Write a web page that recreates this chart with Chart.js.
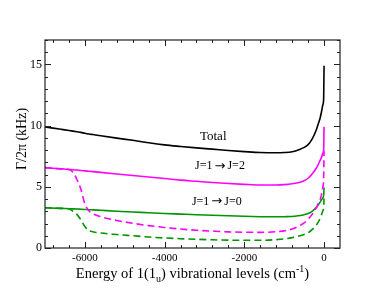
<!DOCTYPE html>
<html>
<head>
<meta charset="utf-8">
<script src="https://cdn.jsdelivr.net/npm/chart.js@4/dist/chart.umd.min.js"></script>
<style>
  html, body { margin: 0; padding: 0; background: #fff; }
  #wrap { width: 385px; height: 293px; position: relative; }
</style>
</head>
<body>
<div id="wrap"><canvas id="c" width="385" height="293"></canvas></div>
<script>
// ---- data ----
const energies = [-7000, -6600, -6400, -6300, -6200, -6100, -6000, -5900, -5800, -5600, -5200, -4800, -4400, -4000, -3600, -3200, -2800, -2400, -2000, -1600, -1200, -1000, -800, -600, -500, -400, -300, -200, -150, -100, -60, -30, -10, 0];
const total    = [9.9, 9.7, 9.6, 9.55, 9.5, 9.45, 9.38, 9.32, 9.27, 9.17, 8.98, 8.8, 8.6, 8.43, 8.3, 8.18, 8.08, 7.97, 7.88, 7.8, 7.78, 7.8, 7.87, 8.08, 8.22, 8.45, 8.9, 9.6, 10.1, 10.6, 11.2, 11.7, 12.2, 14.9];
const j12Solid = [6.57, 6.47, 6.42, 6.4, 6.37, 6.33, 6.3, 6.27, 6.24, 6.18, 6.05, 5.92, 5.8, 5.68, 5.55, 5.45, 5.35, 5.27, 5.2, 5.15, 5.15, 5.18, 5.25, 5.38, 5.5, 5.7, 6.05, 6.5, 6.8, 7.15, 7.45, 7.75, 8.0, 9.9];
const j12Dash  = [6.57, 6.47, 6.42, 6.2, 5.6, 4.8, 3.6, 3.05, 2.8, 2.55, 2.25, 2.02, 1.83, 1.68, 1.55, 1.45, 1.38, 1.32, 1.29, 1.28, 1.33, 1.4, 1.55, 1.85, 2.05, 2.35, 2.75, 3.25, 3.6, 3.95, 4.45, 5.0, 5.7, 7.9];
const j10Solid = [3.29, 3.24, 3.21, 3.2, 3.19, 3.17, 3.15, 3.13, 3.12, 3.08, 3.0, 2.94, 2.88, 2.82, 2.77, 2.72, 2.68, 2.63, 2.59, 2.56, 2.55, 2.56, 2.58, 2.65, 2.72, 2.82, 3.0, 3.3, 3.5, 3.75, 3.95, 4.1, 4.3, 4.95];
const j10Dash  = [3.29, 3.24, 3.21, 3.0, 2.75, 2.3, 1.75, 1.42, 1.33, 1.22, 1.1, 1.0, 0.9, 0.82, 0.76, 0.71, 0.67, 0.64, 0.63, 0.63, 0.68, 0.74, 0.85, 1.0, 1.1, 1.25, 1.5, 1.85, 2.1, 2.4, 2.75, 3.05, 3.3, 4.05];
const xTickLabels = [-6000, -4000, -2000, 0];
const yTickLabels = [0, 5, 10, 15];
const xRange = [-7000, 400];
const yRange = [0, 17];
const annotations = [
  { parts: ['Total'],             x: -2780, y: 9.07, size: 13 },
  { parts: ['J=1', '\u2192', 'J=2'], x: -2610, y: 6.68, size: 12 },
  { parts: ['J=1', '\u2192', 'J=0'], x: -2690, y: 3.8,  size: 12 }
];

const pts = ys => energies.map((e, i) => ({ x: e, y: ys[i] }));
const SERIF = '"Liberation Serif", "DejaVu Serif", serif';
const ARROWFONT = '"DejaVu Sans", sans-serif';
const GREEN = 'rgb(0,150,0)';
const MAGENTA = 'rgb(255,0,255)';

const frameAndTicks = {
  id: 'frameAndTicks',
  afterDraw(chart) {
    const { ctx, chartArea: a, scales } = chart;
    const xs = scales.x, ys = scales.y;
    ctx.save();
    ctx.strokeStyle = '#222';
    ctx.lineWidth = 1;
    for (let v = 0; v >= xRange[0]; v -= 400) {
      const px = Math.round(xs.getPixelForValue(v)) + 0.5;
      const len = (v % 2000 === 0) ? 6 : 3;
      ctx.beginPath();
      ctx.moveTo(px, a.bottom); ctx.lineTo(px, a.bottom - len);
      ctx.moveTo(px, a.top); ctx.lineTo(px, a.top + len);
      ctx.stroke();
    }
    for (let v = 0; v <= yRange[1]; v += 1) {
      const py = Math.round(ys.getPixelForValue(v)) + 0.5;
      const len = (v % 5 === 0) ? 6 : 3;
      ctx.beginPath();
      ctx.moveTo(a.left, py); ctx.lineTo(a.left + len, py);
      ctx.moveTo(a.right, py); ctx.lineTo(a.right - len, py);
      ctx.stroke();
    }
    ctx.lineWidth = 1.2;
    ctx.strokeRect(a.left, a.top, a.right - a.left, a.bottom - a.top);

    // annotations
    ctx.fillStyle = '#000';
    ctx.textBaseline = 'middle';
    ctx.textAlign = 'left';
    annotations.forEach(an => {
      const fonts = an.parts.map(p => (p === '\u2192' ? (an.size + 1) + 'px ' + ARROWFONT : an.size + 'px ' + SERIF));
      const gaps = an.parts.map(p => (p === '\u2192' ? 2 : 0));
      let w = 0;
      an.parts.forEach((p, i) => { ctx.font = fonts[i]; w += ctx.measureText(p).width + 2 * gaps[i]; });
      let x0 = xs.getPixelForValue(an.x) - w / 2;
      const y0 = ys.getPixelForValue(an.y);
      an.parts.forEach((p, i) => {
        ctx.font = fonts[i];
        x0 += gaps[i];
        ctx.fillText(p, x0, y0);
        x0 += ctx.measureText(p).width + gaps[i];
      });
    });

    // x axis title with subscript / superscript
    const parts = [
      { t: 'Energy of 1(1', s: 14.5, dy: 0 },
      { t: 'u', s: 10, dy: 4 },
      { t: ') vibrational levels (cm', s: 14.5, dy: 0 },
      { t: '-1', s: 10, dy: -6 },
      { t: ')', s: 14.5, dy: 0 }
    ];
    ctx.textAlign = 'left';
    ctx.textBaseline = 'alphabetic';
    let w = 0;
    parts.forEach(p => { ctx.font = p.s + 'px ' + SERIF; w += ctx.measureText(p.t).width; });
    let x0 = (a.left + a.right) / 2 - w / 2;
    const base = 278;
    parts.forEach(p => {
      ctx.font = p.s + 'px ' + SERIF;
      ctx.fillText(p.t, x0, base + p.dy);
      x0 += ctx.measureText(p.t).width;
    });

    // y axis title
    ctx.save();
    ctx.translate(22, 139);
    ctx.rotate(-Math.PI / 2);
    ctx.textAlign = 'center';
    ctx.textBaseline = 'middle';
    ctx.font = '14px ' + SERIF;
    ctx.fillText('\u0393/2\u03c0 (kHz)', 0, 0);
    ctx.restore();
    ctx.restore();
  }
};

const ds = (label, data, color, dashed) => ({
  label, data: pts(data), borderColor: color, backgroundColor: color,
  borderWidth: 1.6, borderDash: dashed ? [7, 4] : [], pointRadius: 0,
  cubicInterpolationMode: 'monotone', fill: false
});

new Chart(document.getElementById('c'), {
  type: 'line',
  data: {
    datasets: [
      ds('Total', total, '#000', false),
      ds('J=1→J=2', j12Solid, MAGENTA, false),
      ds('J=1→J=2 dashed', j12Dash, MAGENTA, true),
      ds('J=1→J=0', j10Solid, GREEN, false),
      ds('J=1→J=0 dashed', j10Dash, GREEN, true)
    ]
  },
  options: {
    responsive: false,
    animation: false,
    devicePixelRatio: 1,
    layout: { padding: { top: 40, right: 45, left: 0, bottom: 0 } },
    plugins: { legend: { display: false }, tooltip: { enabled: false } },
    scales: {
      x: {
        type: 'linear', min: xRange[0], max: xRange[1],
        grid: { display: false, drawTicks: false },
        border: { display: false },
        afterBuildTicks: s => { s.ticks = xTickLabels.map(v => ({ value: v })); },
        afterFit: s => { s.height = 45; },
        ticks: {
          padding: 4, maxRotation: 0, autoSkip: false,
          color: '#000', font: { family: SERIF, size: 11 },
          callback: v => String(v)
        }
      },
      y: {
        type: 'linear', min: yRange[0], max: yRange[1],
        grid: { display: false, drawTicks: false },
        border: { display: false },
        afterBuildTicks: s => { s.ticks = yTickLabels.map(v => ({ value: v })); },
        afterFit: s => { s.width = 45; },
        ticks: {
          padding: 3, autoSkip: false,
          color: '#000', font: { family: SERIF, size: 12 },
          callback: v => String(v)
        }
      }
    }
  },
  plugins: [frameAndTicks]
});
</script>
</body>
</html>
